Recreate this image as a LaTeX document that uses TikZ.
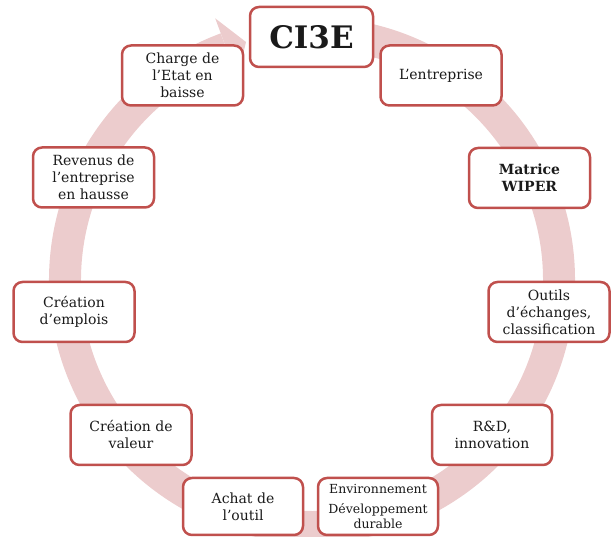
\documentclass[tikz,border=0pt]{standalone}
\usepackage{fontspec}
\setmainfont{DejaVu Serif}
\usetikzlibrary{calc}
\definecolor{boxred}{HTML}{C0504D}
\definecolor{bandpink}{RGB}{236,204,205}
\definecolor{txt}{HTML}{1A1A1A}
\tikzset{
  cbox/.style={draw=boxred, line width=2.5pt, rounded corners=9pt, fill=white,
    minimum width=121pt, minimum height=60pt, inner sep=2pt, align=center,
    text=txt, font=\fontsize{14}{17}\selectfont},
}
\begin{document}
\begin{tikzpicture}[x=1pt,y=1pt]
\useasboundingbox (0,0) rectangle (611,537);
\coordinate (ctr) at (312,257);
% circular band
\draw[bandpink, line width=32pt] ($(ctr)+(85:247)$) arc[start angle=85, end angle=-249.7, radius=247];
\fill[bandpink] ($(ctr)+(110.3:279)$) -- ($(ctr)+(105.5:247)$) -- ($(ctr)+(110.3:215)$) -- cycle;
% boxes
\node[cbox, minimum width=123pt, font=\fontsize{31}{34}\selectfont\bfseries] (ci3e) at (311.5,500) {CI3E};
\node[cbox] (charge) at (182.5,461.5) {Charge de\\l’Etat en\\baisse};
\node[cbox] (entr) at (441,461.5) {L’entreprise};
\node[cbox] (rev) at (93.5,359.5) {Revenus de\\l’entreprise\\en hausse};
\node[cbox, font=\fontsize{14}{17}\selectfont\bfseries] (wiper) at (529.5,359) {Matrice\\WIPER};
\node[cbox] (empl) at (74,225) {Création\\d’emplois};
\node[cbox] (outils) at (549,225) {Outils\\d’échanges,\\classification};
\node[cbox] (val) at (131,102) {Création de\\valeur};
\node[cbox, minimum width=120pt] (rd) at (492,102) {R\&D,\\innovation};
\node[cbox, minimum width=120pt, minimum height=57pt] (achat) at (243,30.5) {Achat de\\l’outil};
\node[cbox, minimum width=120pt, minimum height=57pt, font=\fontsize{12.5}{15}\selectfont] (env) at (378,30.5) {Environnement\\[5pt]Développement\\durable};
\end{tikzpicture}
\end{document}
